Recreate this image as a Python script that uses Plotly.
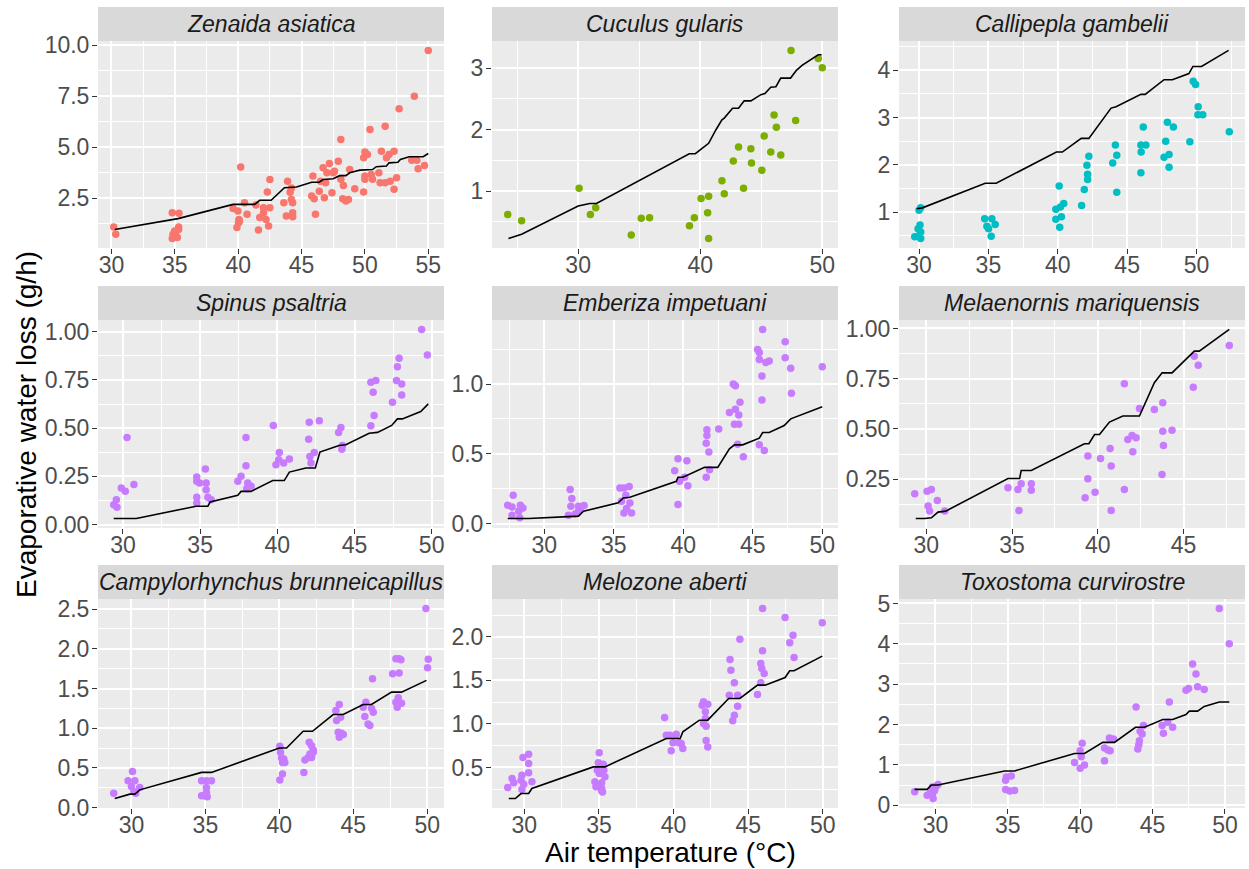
import plotly.graph_objects as go

W, H = 1249, 869

# ---------------- data ----------------
species = ["Zenaida asiatica", "Cuculus gularis", "Callipepla gambelii",
           "Spinus psaltria", "Emberiza impetuani", "Melaenornis mariquensis",
           "Campylorhynchus brunneicapillus", "Melozone aberti", "Toxostoma curvirostre"]
point_colors = ["#F8766D", "#7CAE00", "#00BFC4", "#C77CFF", "#C77CFF",
                "#C77CFF", "#C77CFF", "#C77CFF", "#C77CFF"]

zen_x = [30.18, 30.34, 34.8, 35.33, 34.86, 34.8, 35.1, 35.3, 35.3, 34.99, 35.2,
         40.2, 39.6, 39.98, 40.5, 40.7, 40.06, 40.03, 39.9, 40.1, 41.4, 42.0, 41.7, 42.0,
         41.6, 42.2, 42.3, 42.5, 42.5, 42.4, 43.6, 43.8, 43.9, 44.1, 44.2, 44.2, 44.3,
         44.3, 44.3, 45.9, 45.8, 46.0, 46.1, 46.4, 46.5, 46.7, 46.8, 46.9, 47.0, 47.2,
         47.4, 47.5, 47.6, 47.9, 48.1, 48.1, 48.25, 48.3, 48.5, 48.7, 48.8, 49.2, 49.9,
         50.0, 49.9, 50.2, 50.0, 50.0, 50.4, 50.5, 50.6, 51.1, 51.2, 51.3, 51.6, 51.6,
         51.7, 51.9, 52.0, 52.3, 52.3, 52.5, 52.7, 53.7, 53.9, 54.1, 54.2, 54.7, 55.0]
zen_y = [1.08, 0.72, 1.78, 1.75, 0.72, 0.51, 0.64, 0.96, 1.08, 0.88, 0.56,
         4.02, 1.99, 1.86, 2.27, 1.70, 1.45, 1.29, 1.05, 1.37, 2.16, 2.03, 1.54, 1.78,
         0.93, 1.45, 2.80, 3.41, 2.02, 1.13, 2.27, 1.62, 3.33, 2.79, 3.00, 2.43, 2.27,
         1.78, 1.58, 3.58, 2.60, 2.47, 1.70, 2.84, 3.33, 3.99, 2.52, 3.25, 3.74, 4.20,
         2.76, 3.74, 3.82, 4.31, 5.38, 3.42, 2.47, 3.12, 2.35, 2.43, 3.90, 2.96, 2.80,
         4.76, 4.48, 4.64, 3.58, 3.42, 5.87, 3.66, 3.42, 3.74, 3.25, 4.80, 6.03, 3.25,
         4.48, 4.64, 3.33, 4.80, 2.93, 3.50, 6.88, 4.36, 7.50, 4.36, 3.94, 4.10, 9.75]
zen_fit_x = [30.26, 35.25, 39.6, 41.3, 41.7, 42.6, 43.65, 44.6, 45.8, 46.4, 46.7, 47.5,
             48.0, 48.5, 48.8, 49.6, 50.6, 50.9, 51.7, 51.9, 52.6, 52.8, 53.5, 54.6, 55.0]
zen_fit_y = [0.96, 1.49, 2.19, 2.19, 2.39, 2.39, 3.01, 3.04, 3.28, 3.28, 3.41, 3.45,
             3.60, 3.60, 3.74, 3.87, 3.90, 4.04, 4.07, 4.23, 4.26, 4.40, 4.53, 4.53, 4.69]

cuc_x = [24.23, 25.37, 30.08, 31.0, 31.44, 34.35, 35.17, 35.85, 39.12, 39.52, 40.07,
         40.69, 40.61, 40.69, 41.78, 41.97, 42.71, 43.14, 43.55, 44.15, 44.2, 45.05,
         45.24, 45.78, 46.05, 46.24, 46.6, 47.44, 47.82, 49.67, 50.0]
cuc_y = [0.62, 0.52, 1.05, 0.62, 0.73, 0.29, 0.56, 0.57, 0.44, 0.57, 0.88,
         0.92, 0.65, 0.23, 1.17, 0.96, 1.49, 1.72, 1.05, 1.69, 1.46, 1.34,
         1.90, 1.64, 2.24, 2.04, 1.59, 3.29, 2.15, 3.16, 3.01]
cuc_fit_x = [24.29, 25.37, 30.0, 30.95, 31.5, 39.1, 39.6, 40.69, 41.29, 41.78, 41.97,
             42.65, 43.14, 43.6, 44.15, 44.97, 45.3, 45.78, 46.2, 46.6, 47.4, 47.9,
             48.37, 49.67, 49.95]
cuc_fit_y = [0.23, 0.30, 0.76, 0.80, 0.80, 1.61, 1.61, 1.78, 2.00, 2.16, 2.19,
             2.35, 2.35, 2.47, 2.47, 2.57, 2.59, 2.69, 2.70, 2.84, 2.84, 2.97,
             3.05, 3.22, 3.22]

cal_x = [29.69, 29.93, 30.07, 30.12, 30.0, 30.12, 30.12, 29.93, 34.73, 34.89, 35.01,
         35.25, 35.49, 35.2, 39.86, 39.86, 40.1, 40.19, 40.26, 40.14, 40.43, 41.72,
         41.91, 42.1, 42.15, 42.15, 42.24, 43.96, 44.15, 44.25, 44.25, 45.99, 46.01,
         45.99, 46.16, 46.35, 47.66, 47.78, 47.9, 48.02, 48.02, 48.33, 49.52, 49.76,
         49.93, 50.12, 50.1, 50.45, 52.36]
cal_y = [0.48, 0.65, 0.73, 1.09, 1.04, 0.58, 0.44, 0.49, 0.86, 0.70, 0.65,
         0.86, 0.74, 0.49, 1.06, 0.85, 1.55, 1.11, 0.90, 0.68, 1.18, 1.14,
         1.48, 1.99, 1.80, 1.69, 2.18, 2.04, 2.42, 2.20, 1.42, 2.42, 2.27,
         1.83, 2.80, 2.42, 2.16, 2.50, 2.90, 2.22, 1.95, 2.80, 2.49, 3.77,
         3.70, 3.23, 3.06, 3.06, 2.70]
cal_fit_x = [29.83, 30.24, 34.77, 35.56, 39.9, 40.33, 41.69, 42.24, 43.84, 44.2,
             45.99, 46.3, 47.66, 48.26, 49.45, 49.74, 50.36, 52.31]
cal_fit_y = [1.07, 1.09, 1.61, 1.61, 2.27, 2.27, 2.56, 2.56, 3.20, 3.23,
             3.49, 3.49, 3.80, 3.80, 3.93, 4.08, 4.08, 4.42]

spi_x = [29.4, 29.61, 29.57, 29.89, 30.15, 30.26, 30.71, 34.78, 34.78, 34.96, 34.78,
         34.78, 35.34, 35.39, 35.39, 35.5, 35.71, 37.44, 37.65, 37.97, 37.97, 38.02,
         38.08, 38.3, 39.74, 39.91, 40.09, 40.13, 40.41, 40.78, 42.03, 42.07, 42.11,
         42.18, 42.39, 42.72, 43.97, 44.12, 44.18, 44.22, 46.06, 46.06, 46.21, 46.27,
         46.38, 47.46, 47.72, 47.78, 47.89, 48.06, 48.06, 49.35, 49.72]
spi_y = [0.103, 0.090, 0.129, 0.190, 0.172, 0.452, 0.207, 0.247, 0.224, 0.216, 0.141,
         0.112, 0.288, 0.216, 0.181, 0.141, 0.129, 0.224, 0.250, 0.452, 0.305, 0.186,
         0.216, 0.198, 0.514, 0.310, 0.336, 0.374, 0.319, 0.340, 0.443, 0.531, 0.353,
         0.319, 0.374, 0.538, 0.478, 0.503, 0.391, 0.410, 0.512, 0.738, 0.686, 0.566,
         0.747, 0.634, 0.747, 0.819, 0.862, 0.729, 0.672, 1.012, 0.879]
spi_fit_x = [29.4, 30.86, 34.74, 35.5, 35.65, 37.44, 37.65, 38.3, 39.7, 40.45, 40.78,
             41.85, 42.46, 42.76, 44.0, 44.44, 45.95, 46.49, 47.41, 47.78, 48.1, 49.29, 49.78]
spi_fit_y = [0.031, 0.031, 0.095, 0.095, 0.117, 0.152, 0.172, 0.172, 0.228, 0.228, 0.272,
             0.293, 0.293, 0.376, 0.410, 0.414, 0.474, 0.478, 0.514, 0.548, 0.548, 0.586, 0.626]

emb_x = [27.37, 27.68, 27.76, 27.68, 28.16, 28.28, 28.23, 28.47, 31.74, 31.86, 31.91,
         31.98, 32.22, 32.46, 32.46, 32.58, 32.86, 35.44, 35.73, 35.87, 36.11, 35.56,
         35.73, 35.92, 36.16, 36.28, 39.38, 39.62, 39.62, 39.74, 40.26, 40.33, 40.1,
         41.65, 41.7, 41.7, 41.65, 41.84, 41.89, 42.55, 43.32, 43.6, 43.75, 43.75, 43.68,
         43.99, 43.99, 44.08, 43.91, 44.32, 45.35, 45.47, 45.47, 45.71, 45.66, 45.66,
         45.47, 45.83, 45.94, 46.18, 47.33, 47.33, 47.73, 47.78, 50.0]
emb_y = [0.133, 0.121, 0.204, 0.062, 0.090, 0.133, 0.043, 0.114, 0.062, 0.245, 0.126,
         0.181, 0.071, 0.090, 0.126, 0.109, 0.131, 0.257, 0.257, 0.204, 0.268, 0.162,
         0.078, 0.109, 0.150, 0.078, 0.380, 0.466, 0.138, 0.304, 0.451, 0.273, 0.333,
         0.333, 0.672, 0.632, 0.577, 0.513, 0.387, 0.679, 0.796, 1.000, 0.988, 0.819, 0.713,
         0.713, 0.779, 0.869, 0.570, 0.480, 1.247, 1.226, 1.176, 1.390, 1.057, 0.886,
         0.565, 0.525, 1.154, 1.164, 1.302, 1.188, 1.112, 0.933, 1.124]
emb_fit_x = [27.37, 28.88, 32.46, 32.82, 35.32, 35.68, 36.16, 39.5, 39.62, 39.98, 41.53,
             42.48, 43.32, 43.68, 44.27, 45.47, 45.71, 46.18, 47.26, 47.73, 50.0]
emb_fit_y = [0.038, 0.038, 0.055, 0.090, 0.150, 0.185, 0.190, 0.304, 0.333, 0.333, 0.404,
             0.404, 0.537, 0.565, 0.565, 0.613, 0.653, 0.653, 0.703, 0.751, 0.838]

mel_x = [29.32, 30.04, 30.29, 30.1, 30.19, 30.64, 31.07, 34.76, 35.34, 35.4, 35.53,
         36.12, 36.12, 39.26, 39.42, 39.42, 39.84, 40.16, 40.72, 40.78, 40.78, 41.55,
         41.55, 41.75, 42.0, 42.23, 42.04, 42.43, 43.3, 43.79, 43.79, 43.83, 43.75,
         44.33, 45.57, 45.63, 45.86, 47.67]
mel_y = [0.177, 0.190, 0.199, 0.116, 0.091, 0.144, 0.091, 0.207, 0.199, 0.094, 0.227,
         0.227, 0.195, 0.157, 0.365, 0.252, 0.185, 0.353, 0.403, 0.315, 0.094, 0.725,
         0.199, 0.447, 0.467, 0.456, 0.386, 0.602, 0.597, 0.630, 0.489, 0.418, 0.273,
         0.494, 0.708, 0.862, 0.817, 0.915]
mel_fit_x = [29.38, 29.9, 30.29, 30.68, 31.13, 34.76, 35.44, 35.53, 36.12, 39.22, 39.48,
             39.81, 40.1, 40.68, 41.46, 42.43, 43.3, 43.75, 44.33, 45.63, 45.92, 47.67]
mel_fit_y = [0.054, 0.054, 0.058, 0.086, 0.091, 0.253, 0.253, 0.293, 0.293, 0.426, 0.426,
             0.472, 0.472, 0.534, 0.564, 0.564, 0.730, 0.779, 0.779, 0.887, 0.887, 0.995]

cam_x = [28.8, 29.77, 30.07, 30.23, 30.0, 30.16, 30.29, 30.56, 34.74, 35.07, 35.41,
         34.74, 35.07, 35.07, 35.12, 34.96, 40.03, 40.08, 40.15, 40.21, 40.3, 40.37,
         40.21, 40.03, 41.66, 41.73, 41.95, 42.02, 42.07, 42.18, 42.29, 42.29, 42.18,
         43.82, 43.87, 43.98, 44.05, 44.05, 44.2, 44.32, 44.14, 45.67, 45.85, 45.78,
         46.0, 46.12, 46.23, 46.3, 46.35, 47.66, 47.88, 48.1, 48.1, 48.04, 47.88, 47.97,
         48.26, 48.22, 49.91, 50.07, 50.02]
cam_y = [0.181, 0.337, 0.455, 0.337, 0.266, 0.202, 0.181, 0.253, 0.337, 0.337, 0.337,
         0.148, 0.253, 0.190, 0.135, 0.148, 0.772, 0.696, 0.624, 0.569, 0.611, 0.569,
         0.422, 0.346, 0.443, 0.599, 0.632, 0.822, 0.675, 0.780, 0.696, 0.725, 0.632,
         1.223, 1.096, 0.949, 1.299, 0.885, 0.936, 0.919, 1.138, 1.265, 1.328, 1.147,
         1.054, 1.033, 1.252, 1.623, 1.202, 1.686, 1.876, 1.876, 1.695, 1.383, 1.328, 1.265,
         1.315, 1.863, 2.508, 1.868, 1.762]
cam_fit_x = [28.87, 29.89, 30.23, 30.56, 34.74, 35.41, 40.0, 40.49, 41.61, 42.24, 43.64,
             44.32, 45.67, 46.23, 47.59, 48.26, 49.95]
cam_fit_y = [0.114, 0.169, 0.169, 0.223, 0.443, 0.443, 0.750, 0.750, 0.961, 0.961, 1.172,
             1.172, 1.298, 1.298, 1.454, 1.454, 1.602]

mlz_x = [28.89, 29.18, 29.29, 29.84, 29.78, 29.91, 29.84, 29.96, 30.29, 30.29, 30.29,
         30.51, 34.73, 34.8, 35.02, 34.96, 34.89, 35.02, 35.18, 35.18, 35.29, 35.33,
         35.4, 35.18, 35.24, 39.4, 39.51, 39.73, 39.84, 39.96, 40.13, 40.36, 40.51,
         40.62, 40.18, 41.91, 42.0, 42.13, 42.13, 42.18, 42.0, 42.18, 42.29, 42.29,
         43.78, 43.84, 44.07, 43.73, 43.96, 44.07, 44.29, 44.29, 44.44, 45.62, 45.84,
         45.84, 45.91, 45.96, 45.96, 46.07, 47.47, 47.78, 48.0, 48.07, 49.96]
mlz_y = [0.270, 0.374, 0.324, 0.412, 0.354, 0.615, 0.247, 0.308, 0.653, 0.546, 0.439,
         0.335, 0.335, 0.278, 0.668, 0.553, 0.469, 0.431, 0.324, 0.232, 0.538, 0.469,
         0.393, 0.259, 0.220, 1.074, 0.871, 0.871, 0.691, 0.783, 0.871, 0.783, 0.775,
         0.718, 0.882, 1.215, 1.254, 1.139, 1.062, 0.974, 1.005, 0.810, 0.736, 1.227,
         1.740, 1.617, 1.472, 1.330, 1.036, 1.101, 1.330, 1.204, 1.973, 1.338, 1.472,
         1.694, 1.636, 1.839, 2.325, 1.579, 2.222, 1.931, 2.019, 1.763, 2.161]
mlz_fit_x = [28.96, 29.4, 29.78, 30.29, 30.51, 34.62, 35.4, 39.51, 40.44, 40.62, 41.73,
             42.29, 43.69, 44.44, 45.62, 46.13, 47.47, 47.78, 48.07, 49.96]
mlz_fit_y = [0.144, 0.144, 0.201, 0.201, 0.259, 0.507, 0.507, 0.833, 0.833, 0.909, 1.043,
             1.043, 1.292, 1.292, 1.445, 1.445, 1.533, 1.610, 1.610, 1.778]

tox_x = [28.57, 29.43, 29.66, 29.79, 29.84, 29.95, 30.07, 30.18, 29.79, 34.85, 34.9,
         35.24, 34.85, 35.13, 35.47, 39.61, 40.0, 40.0, 40.14, 40.07, 40.3, 41.68, 41.68,
         41.91, 42.02, 42.07, 42.3, 43.86, 43.98, 44.05, 44.09, 44.14, 44.28, 44.37,
         45.66, 45.75, 46.05, 46.16, 46.39, 47.31, 47.49, 47.77, 48.0, 48.11, 48.57,
         49.61, 50.3]
tox_y = [0.333, 0.250, 0.308, 0.450, 0.167, 0.367, 0.475, 0.517, 0.267, 0.617, 0.700,
         0.725, 0.392, 0.350, 0.367, 1.058, 1.350, 0.917, 1.533, 1.200, 1.000, 1.100, 1.417,
         1.367, 1.667, 1.350, 1.642, 2.433, 1.392, 1.500, 1.600, 1.833, 1.767, 1.975,
         1.975, 1.783, 2.058, 2.558, 1.933, 2.850, 2.892, 3.500, 3.250, 2.933, 2.867,
         4.875, 4.000]
tox_fit_x = [28.57, 29.43, 29.72, 30.18, 34.78, 35.47, 39.61, 40.3, 41.56, 42.37, 43.82,
             44.44, 45.71, 46.39, 47.31, 47.54, 48.11, 48.57, 49.61, 50.3]
tox_fit_y = [0.392, 0.392, 0.500, 0.500, 0.850, 0.850, 1.283, 1.283, 1.558, 1.558, 1.933,
             1.933, 2.125, 2.125, 2.250, 2.333, 2.333, 2.450, 2.558, 2.558]

# tick values per panel
x_ticks = [[30, 35, 40, 45, 50, 55], [30, 40, 50], [30, 35, 40, 45, 50],
           [30, 35, 40, 45, 50], [30, 35, 40, 45, 50], [30, 35, 40, 45],
           [30, 35, 40, 45, 50], [30, 35, 40, 45, 50], [30, 35, 40, 45, 50]]
y_ticks = [[2.5, 5.0, 7.5, 10.0], [1, 2, 3], [1, 2, 3, 4],
           [0, 0.25, 0.5, 0.75, 1.0], [0, 0.5, 1.0], [0.25, 0.5, 0.75, 1.0],
           [0, 0.5, 1.0, 1.5, 2.0, 2.5], [0.5, 1.0, 1.5, 2.0], [0, 1, 2, 3, 4, 5]]
y_decimals = [1, 0, 0, 2, 1, 2, 1, 1, 0]

points = [(zen_x, zen_y), (cuc_x, cuc_y), (cal_x, cal_y), (spi_x, spi_y), (emb_x, emb_y),
          (mel_x, mel_y), (cam_x, cam_y), (mlz_x, mlz_y), (tox_x, tox_y)]
fits = [(zen_fit_x, zen_fit_y), (cuc_fit_x, cuc_fit_y), (cal_fit_x, cal_fit_y),
        (spi_fit_x, spi_fit_y), (emb_fit_x, emb_fit_y), (mel_fit_x, mel_fit_y),
        (cam_fit_x, cam_fit_y), (mlz_fit_x, mlz_fit_y), (tox_fit_x, tox_fit_y)]

# ---------------- layout geometry (pixels) ----------------
col_px = [(98, 444), (492, 838), (899, 1245)]
row_panel_px = [(41, 248), (320, 528), (599, 808)]
row_strip_px = [(7, 41), (286, 320), (565, 599)]

FONT = "Liberation Sans, Arial, sans-serif"
TICK_FONT = dict(family=FONT, size=23, color="#4D4D4D")


def fx(px):
    return px / W


def fy(py):
    return 1 - py / H


def expanded(vals_a, vals_b):
    lo = min(min(vals_a), min(vals_b))
    hi = max(max(vals_a), max(vals_b))
    pad = 0.05 * (hi - lo)
    return [lo - pad, hi + pad]


def minor_vals(ticks, rng):
    step = (ticks[1] - ticks[0]) / 2.0 if len(ticks) > 1 else 1
    vals = []
    v = ticks[0] - step
    while v <= rng[1]:
        if v >= rng[0]:
            vals.append(v)
        v += step
    return vals


fig = go.Figure()
shapes, annotations = [], []

for i in range(9):
    r, c = divmod(i, 3)
    sx = "" if i == 0 else str(i + 1)
    px_, py_ = points[i]
    lx_, ly_ = fits[i]
    fig.add_trace(go.Scatter(x=px_, y=py_, mode="markers",
                             marker=dict(color=point_colors[i], size=7.5, line=dict(width=0)),
                             xaxis="x" + sx, yaxis="y" + sx, showlegend=False,
                             hoverinfo="x+y"))
    fig.add_trace(go.Scatter(x=lx_, y=ly_, mode="lines",
                             line=dict(color="black", width=1.6),
                             xaxis="x" + sx, yaxis="y" + sx, showlegend=False))
    xr = expanded(px_, lx_)
    yr = expanded(py_, ly_)
    xt = x_ticks[i]
    yt = y_ticks[i]
    dec = y_decimals[i]
    common = dict(showline=False, zeroline=False, automargin=False,
                  ticks="outside", ticklen=5, tickwidth=1.1, tickcolor="#333333",
                  tickfont=TICK_FONT, showgrid=True, gridcolor="white", gridwidth=1.8,
                  fixedrange=True)
    fig.layout["xaxis" + sx] = dict(
        common, domain=[fx(col_px[c][0]), fx(col_px[c][1])], anchor="y" + sx,
        range=xr, tickmode="array", tickvals=xt, ticktext=[str(v) for v in xt],
        ticklabelstandoff=-9,
        minor=dict(tickmode="array", tickvals=minor_vals(xt, xr), showgrid=True,
                   gridcolor="white", gridwidth=0.8, ticks=""))
    fig.layout["yaxis" + sx] = dict(
        common, domain=[fy(row_panel_px[r][1]), fy(row_panel_px[r][0])], anchor="x" + sx,
        range=yr, tickmode="array", tickvals=yt,
        ticktext=[f"{v:.{dec}f}" for v in yt], ticklabelstandoff=-2,
        minor=dict(tickmode="array", tickvals=minor_vals(yt, yr), showgrid=True,
                   gridcolor="white", gridwidth=0.8, ticks=""))
    # strip
    s0, s1 = row_strip_px[r]
    shapes.append(dict(type="rect", xref="paper", yref="paper",
                       x0=fx(col_px[c][0]), x1=fx(col_px[c][1]), y0=fy(s1), y1=fy(s0),
                       fillcolor="#D9D9D9", line=dict(width=0), layer="below"))
    annotations.append(dict(text="<i>" + species[i] + "</i>", xref="paper", yref="paper",
                            x=fx((col_px[c][0] + col_px[c][1]) / 2), y=fy((s0 + s1) / 2),
                            xanchor="center", yanchor="middle", showarrow=False,
                            font=dict(family=FONT, size=23, color="#1A1A1A")))

annotations.append(dict(text="Air temperature (°C)", xref="paper", yref="paper",
                        x=fx(670), y=fy(852), xanchor="center", yanchor="middle",
                        showarrow=False, font=dict(family=FONT, size=28, color="black")))
annotations.append(dict(text="Evaporative water loss (g/h)", xref="paper", yref="paper",
                        x=fx(27), y=fy(425), xanchor="center", yanchor="middle",
                        textangle=-90, showarrow=False,
                        font=dict(family=FONT, size=28, color="black")))

fig.update_layout(width=W, height=H, margin=dict(l=0, r=0, t=0, b=0),
                  template="none", paper_bgcolor="white", plot_bgcolor="#EBEBEB",
                  shapes=shapes, annotations=annotations, showlegend=False,
                  font=dict(family=FONT))

fig.write_html("out.html", config={"displayModeBar": False},
               post_script="document.body.style.margin='0px';"
                           "document.body.style.overflow='hidden';")
